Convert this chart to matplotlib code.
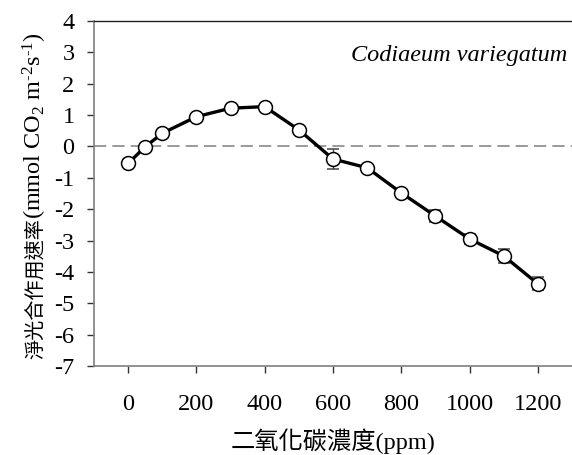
import numpy as np
import matplotlib
matplotlib.use("Agg")
import matplotlib.pyplot as plt

plt.rcParams['font.family'] = ['Liberation Serif', 'Noto Sans CJK TC', 'DejaVu Serif']
plt.rcParams['mathtext.fontset'] = 'custom'
plt.rcParams['mathtext.rm'] = 'Liberation Serif'
plt.rcParams['mathtext.it'] = 'Liberation Serif:italic'
plt.rcParams['axes.unicode_minus'] = False

# CO2 concentration (ppm) and net photosynthesis rate
co2 = [0, 50, 100, 200, 300, 400, 500, 600, 700, 800, 900, 1000, 1100, 1200]
rate = [-0.54, -0.01, 0.42, 0.95, 1.22, 1.27, 0.53, -0.40, -0.68, -1.48, -2.22, -2.95, -3.49, -4.38]
err = [0.03, 0.03, 0.03, 0.04, 0.06, 0.05, 0.05, 0.31, 0.06, 0.08, 0.18, 0.16, 0.23, 0.21]

xticks = [0, 200, 400, 600, 800, 1000, 1200]
yticks = list(range(-7, 5))

fig = plt.figure(figsize=(5.72, 4.55), dpi=100)
ax = fig.add_axes([0.1643, 0.1956, 0.8357, 0.7582])

ax.axhline(0, color='#7f7f7f', lw=1.1, dashes=(8, 4), zorder=1)
ax.errorbar(co2, rate, yerr=err, fmt='-o', color='black', lw=2.4,
            ecolor='#444444', elinewidth=1, capsize=4, capthick=1,
            mfc='white', mec='black', mew=1.1, ms=10, zorder=3)

ax.set_xlim(-100, 1300)
ax.set_ylim(-7, 4)
ax.set_xticks(xticks)
ax.set_yticks(yticks)
ax.tick_params(axis='both', direction='out', length=5, width=1, labelsize=17.5,
               color='#333333')
ax.tick_params(axis='x', pad=15)
ax.tick_params(axis='y', pad=9)

for s in ['left', 'bottom']:
    ax.spines[s].set_color('#7f7f7f')
    ax.spines[s].set_linewidth(1.2)
ax.spines['top'].set_color('#222222')
ax.spines['top'].set_linewidth(1)
ax.spines['right'].set_visible(False)

ax.set_xlabel('二氧化碳濃度(ppm)', fontsize=17.5, labelpad=10)

ax.text(0.99, 0.90, 'Codiaeum variegatum', transform=ax.transAxes,
        ha='right', va='center', fontsize=17.5, style='italic')

# y label: Chinese part followed by the unit with sub/superscripts
xb = 0.072
t1 = fig.text(xb, 0.21, '淨光合作用速率', rotation=90, rotation_mode='anchor',
              ha='left', va='baseline', fontsize=14.5)
fig.canvas.draw()
bb = t1.get_window_extent(fig.canvas.get_renderer())
y_next = bb.y1 / fig.bbox.height
fig.text(xb, y_next, r'(mmol CO$_2$ m$^{\text{-2}}$s$^{\text{-1}}$)', rotation=90,
         rotation_mode='anchor', ha='left', va='baseline', fontsize=17.5)

fig.savefig('out.png', dpi=100)
